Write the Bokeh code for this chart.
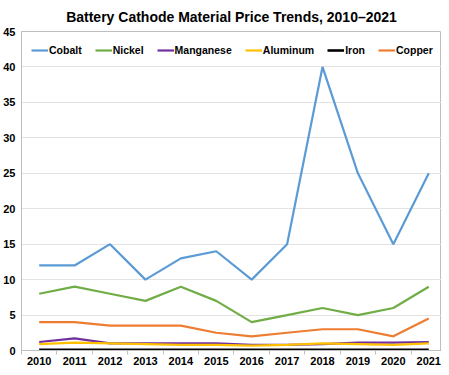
from bokeh.plotting import figure
from bokeh.models import Range1d, FixedTicker, Legend, LegendItem
from bokeh.embed import file_html
from bokeh.resources import INLINE

years = [2010, 2011, 2012, 2013, 2014, 2015, 2016, 2017, 2018, 2019, 2020, 2021]
year_labels = [str(y) for y in years]
cobalt = [12, 12, 15, 10, 13, 14, 10, 15, 40, 25, 15, 25]
nickel = [8, 9, 8, 7, 9, 7, 4, 5, 6, 5, 6, 9]
manganese = [1.2, 1.7, 1.0, 1.0, 1.0, 1.0, 0.8, 0.8, 0.9, 1.1, 1.1, 1.2]
aluminum = [0.9, 1.1, 1.0, 0.9, 0.8, 0.8, 0.7, 0.8, 1.0, 0.9, 0.8, 1.0]
iron = [0.1, 0.1, 0.1, 0.1, 0.1, 0.1, 0.1, 0.1, 0.1, 0.1, 0.1, 0.1]
copper = [4, 4, 3.5, 3.5, 3.5, 2.5, 2, 2.5, 3, 3, 2, 4.5]
y_ticks = [0, 5, 10, 15, 20, 25, 30, 35, 40, 45]

series = [
    ("Cobalt", cobalt, "#5b9bd5"),
    ("Nickel", nickel, "#70ad47"),
    ("Manganese", manganese, "#7030a0"),
    ("Aluminum", aluminum, "#ffc000"),
    ("Iron", iron, "#000000"),
    ("Copper", copper, "#ed7d31"),
]

FONT = "Liberation Sans"

p = figure(width=441, height=367, output_backend="svg", toolbar_location=None,
           x_range=Range1d(2009.5, 2021.36), y_range=Range1d(0, 45),
           min_border_left=0, min_border_right=0, min_border_top=0, min_border_bottom=0,
           title="Battery Cathode Material Price Trends, 2010\u20132021")

p.title.align = "center"
p.title.text_font = FONT
p.title.text_font_size = "14px"
p.title.text_font_style = "bold"
p.title.text_color = "#000000"
p.title.offset = 0
p.title.standoff = 13

p.outline_line_color = "#bfbfbf"
p.background_fill_color = "white"
p.border_fill_color = "white"

p.xgrid.visible = False
p.ygrid.grid_line_color = "#e3e3e3"
p.ygrid.ticker = FixedTicker(ticks=y_ticks)

p.xaxis.ticker = FixedTicker(ticks=years, minor_ticks=[y - 0.5 for y in years] + [2021.5])
p.xaxis.major_label_overrides = {y: s for y, s in zip(years, year_labels)}
p.xaxis.major_tick_out = 0
p.xaxis.major_tick_in = 0
p.xaxis.minor_tick_out = 4
p.xaxis.minor_tick_in = 0
p.xaxis.minor_tick_line_color = "#bfbfbf"
p.xaxis.axis_line_color = "#bfbfbf"
p.xaxis.major_label_standoff = 2
p.xaxis.major_label_text_font = FONT
p.xaxis.major_label_text_font_size = "11px"
p.xaxis.major_label_text_font_style = "bold"
p.xaxis.major_label_text_color = "#000000"

p.yaxis.ticker = FixedTicker(ticks=y_ticks)
p.yaxis.major_tick_out = 0
p.yaxis.major_tick_in = 0
p.yaxis.minor_tick_out = 0
p.yaxis.minor_tick_in = 0
p.yaxis.axis_line_color = "#bfbfbf"
p.yaxis.major_label_standoff = 6
p.yaxis.major_label_text_font = FONT
p.yaxis.major_label_text_font_size = "11px"
p.yaxis.major_label_text_font_style = "bold"
p.yaxis.major_label_text_color = "#000000"

items = []
for name, vals, color in series:
    r = p.line(years, vals, line_color=color, line_width=2.2 if name != "Iron" else 2.6)
    items.append(LegendItem(label=name, renderers=[r]))

legend = Legend(items=items, orientation="horizontal", location="top_left")
legend.background_fill_alpha = 0
legend.border_line_alpha = 0
legend.label_text_font = FONT
legend.label_text_font_size = "10.5px"
legend.label_text_font_style = "bold"
legend.label_text_color = "#000000"
legend.glyph_width = 17
legend.glyph_height = 18
legend.label_width = 0
legend.label_standoff = 1
legend.spacing = 13
legend.padding = 10
legend.margin = 0
p.add_layout(legend, "center")

open("out.html", "w").write(file_html(p, INLINE))
